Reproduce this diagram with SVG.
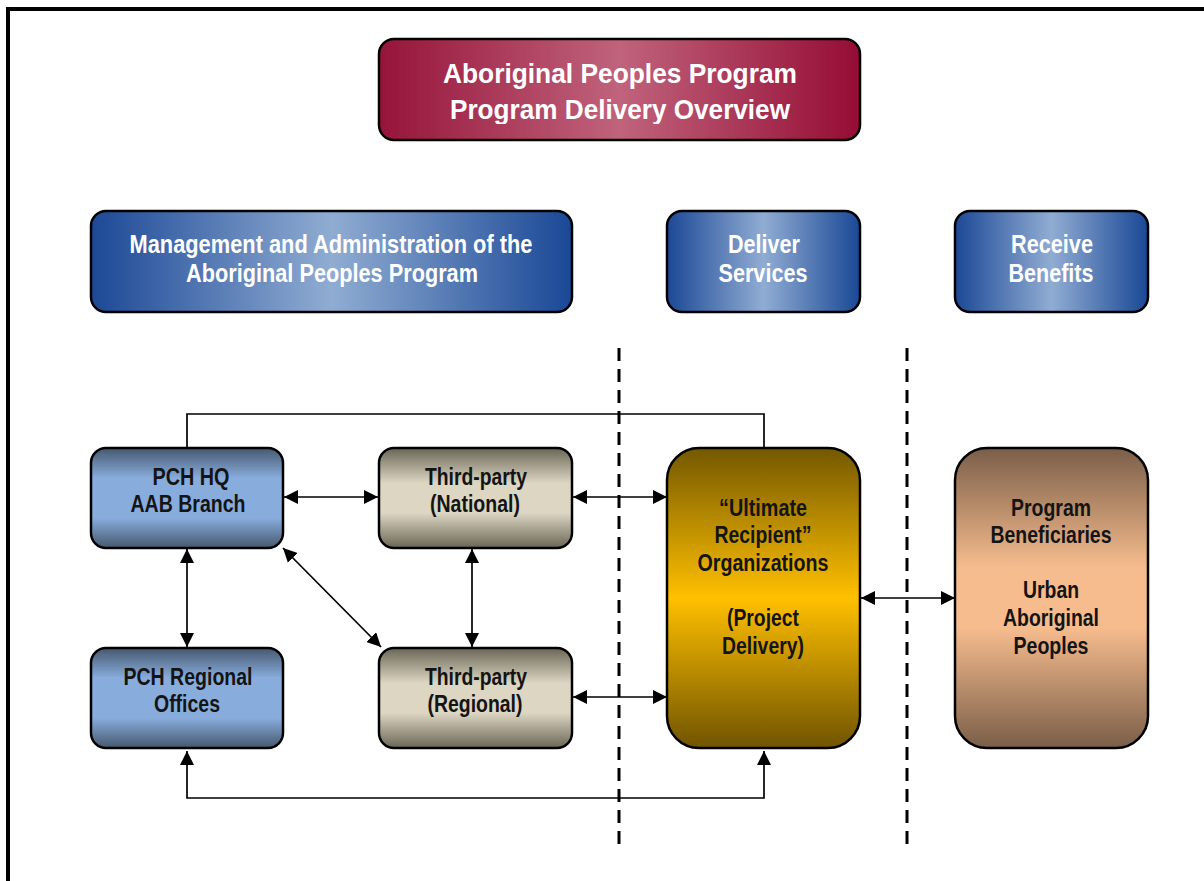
<svg xmlns="http://www.w3.org/2000/svg" width="1204" height="881" viewBox="0 0 1204 881">
<style>
.t{font-family:"Liberation Sans",Arial,sans-serif;text-anchor:middle;font-weight:bold;}
.w{fill:#ffffff;font-size:28px;}
.h{fill:#ffffff;font-size:25px;}
.d{fill:#141414;font-size:23px;}
.box{stroke:#000;stroke-width:2.5;}
.c{fill:none;stroke:#000;stroke-width:1.7;}
.dash{fill:none;stroke:#000;stroke-width:3;stroke-dasharray:13 8;}
</style>
<defs>
<linearGradient id="gTitle" x1="0" y1="0" x2="1" y2="0">
<stop offset="0" stop-color="#96143a"/><stop offset="0.5" stop-color="#c0637c"/><stop offset="1" stop-color="#950c35"/>
</linearGradient>
<linearGradient id="gHead" x1="0" y1="0" x2="1" y2="0">
<stop offset="0" stop-color="#1c4896"/><stop offset="0.5" stop-color="#90acd2"/><stop offset="1" stop-color="#1a4896"/>
</linearGradient>
<linearGradient id="gBlue" x1="0" y1="0" x2="0" y2="1">
<stop offset="0" stop-color="#46586e"/><stop offset="0.3" stop-color="#88acdc"/><stop offset="0.7" stop-color="#88acdc"/><stop offset="1" stop-color="#46586e"/>
</linearGradient>
<linearGradient id="gGrey" x1="0" y1="0" x2="0" y2="1">
<stop offset="0" stop-color="#6a6656"/><stop offset="0.35" stop-color="#dcd6c2"/><stop offset="0.65" stop-color="#dcd6c2"/><stop offset="1" stop-color="#6a6656"/>
</linearGradient>
<linearGradient id="gGold" x1="0" y1="0" x2="0" y2="1">
<stop offset="0" stop-color="#745800"/><stop offset="0.5" stop-color="#ffc000"/><stop offset="1" stop-color="#705400"/>
</linearGradient>
<linearGradient id="gTan" x1="0" y1="0" x2="0" y2="1">
<stop offset="0" stop-color="#7a5e48"/><stop offset="0.4" stop-color="#f6bc8e"/><stop offset="0.6" stop-color="#f6bc8e"/><stop offset="1" stop-color="#7a5e48"/>
</linearGradient>
<clipPath id="titleClip"><rect x="379" y="39" width="481" height="85"/></clipPath>
<marker id="ae" viewBox="0 0 14 14" refX="14" refY="7" markerWidth="14" markerHeight="14" markerUnits="userSpaceOnUse" orient="auto">
<path d="M0,0 L14,7 L0,14 Z" fill="#000"/>
</marker>
<marker id="as" viewBox="0 0 14 14" refX="0" refY="7" markerWidth="14" markerHeight="14" markerUnits="userSpaceOnUse" orient="auto">
<path d="M14,0 L0,7 L14,14 Z" fill="#000"/>
</marker>
</defs>
<rect width="1204" height="881" fill="#ffffff"/>
<rect x="8" y="9" width="1210" height="900" fill="none" stroke="#000" stroke-width="4"/>

<g id="title">
<rect class="box" x="379" y="39" width="481" height="101" rx="15" fill="url(#gTitle)"/>
<g clip-path="url(#titleClip)">
<text class="t w" x="620" y="83" textLength="354" lengthAdjust="spacingAndGlyphs">Aboriginal Peoples Program</text>
<text class="t w" x="620" y="119" textLength="340" lengthAdjust="spacingAndGlyphs">Program Delivery Overview</text>
</g>
</g>
<g id="management">
<rect class="box" x="91" y="211" width="481" height="101" rx="15" fill="url(#gHead)"/>
<text class="t h" x="331" y="253" textLength="403" lengthAdjust="spacingAndGlyphs">Management and Administration of the</text>
<text class="t h" x="332" y="282" textLength="292" lengthAdjust="spacingAndGlyphs">Aboriginal Peoples Program</text>
</g>
<g id="deliver">
<rect class="box" x="667" y="211" width="193" height="101" rx="15" fill="url(#gHead)"/>
<text class="t h" x="764" y="253" textLength="72" lengthAdjust="spacingAndGlyphs">Deliver</text>
<text class="t h" x="763" y="282" textLength="89" lengthAdjust="spacingAndGlyphs">Services</text>
</g>
<g id="receive">
<rect class="box" x="955" y="211" width="193" height="101" rx="15" fill="url(#gHead)"/>
<text class="t h" x="1052" y="253" textLength="82" lengthAdjust="spacingAndGlyphs">Receive</text>
<text class="t h" x="1051" y="282" textLength="85" lengthAdjust="spacingAndGlyphs">Benefits</text>
</g>

<g id="dividers">
<line class="dash" x1="619" y1="348" x2="619" y2="850"/>
<line class="dash" x1="907" y1="348" x2="907" y2="850"/>
</g>

<g id="connectors">
<polyline class="c" points="187,448 187,414 764,414 764,448"/>
<line class="c" x1="284" y1="497" x2="378" y2="497" marker-start="url(#as)" marker-end="url(#ae)"/>
<line class="c" x1="573" y1="497" x2="667" y2="497" marker-start="url(#as)" marker-end="url(#ae)"/>
<line class="c" x1="573" y1="697" x2="667" y2="697" marker-start="url(#as)" marker-end="url(#ae)"/>
<line class="c" x1="187" y1="549" x2="187" y2="647" marker-start="url(#as)" marker-end="url(#ae)"/>
<line class="c" x1="472" y1="549" x2="472" y2="647" marker-start="url(#as)" marker-end="url(#ae)"/>
<line class="c" x1="283" y1="548" x2="381" y2="647" marker-start="url(#as)" marker-end="url(#ae)"/>
<line class="c" x1="861" y1="598" x2="955" y2="598" marker-start="url(#as)" marker-end="url(#ae)"/>
<polyline class="c" points="187,751 187,798 764,798 764,751" marker-start="url(#as)" marker-end="url(#ae)"/>
</g>

<g id="pch-hq">
<rect class="box" x="91" y="448" width="192" height="100" rx="15" fill="url(#gBlue)"/>
<text class="t d" x="191" y="485" textLength="77" lengthAdjust="spacingAndGlyphs">PCH HQ</text>
<text class="t d" x="188" y="512" textLength="115" lengthAdjust="spacingAndGlyphs">AAB Branch</text>
</g>
<g id="third-national">
<rect class="box" x="379" y="448" width="193" height="100" rx="15" fill="url(#gGrey)"/>
<text class="t d" x="476" y="485" textLength="102" lengthAdjust="spacingAndGlyphs">Third-party</text>
<text class="t d" x="475" y="512" textLength="90" lengthAdjust="spacingAndGlyphs">(National)</text>
</g>
<g id="pch-regional">
<rect class="box" x="91" y="648" width="192" height="100" rx="15" fill="url(#gBlue)"/>
<text class="t d" x="188" y="685" textLength="129" lengthAdjust="spacingAndGlyphs">PCH Regional</text>
<text class="t d" x="187" y="712" textLength="66" lengthAdjust="spacingAndGlyphs">Offices</text>
</g>
<g id="third-regional">
<rect class="box" x="379" y="648" width="193" height="100" rx="15" fill="url(#gGrey)"/>
<text class="t d" x="476" y="685" textLength="102" lengthAdjust="spacingAndGlyphs">Third-party</text>
<text class="t d" x="475" y="712" textLength="95" lengthAdjust="spacingAndGlyphs">(Regional)</text>
</g>
<g id="ultimate">
<rect class="box" x="667" y="448" width="193" height="300" rx="32" fill="url(#gGold)"/>
<text class="t d" x="763" y="516" textLength="88" lengthAdjust="spacingAndGlyphs">“Ultimate</text>
<text class="t d" x="763" y="543" textLength="97" lengthAdjust="spacingAndGlyphs">Recipient”</text>
<text class="t d" x="763" y="571" textLength="131" lengthAdjust="spacingAndGlyphs">Organizations</text>
<text class="t d" x="763" y="626" textLength="72" lengthAdjust="spacingAndGlyphs">(Project</text>
<text class="t d" x="763" y="654" textLength="82" lengthAdjust="spacingAndGlyphs">Delivery)</text>
</g>
<g id="beneficiaries">
<rect class="box" x="955" y="448" width="193" height="300" rx="32" fill="url(#gTan)"/>
<text class="t d" x="1051" y="516" textLength="80" lengthAdjust="spacingAndGlyphs">Program</text>
<text class="t d" x="1051" y="543" textLength="121" lengthAdjust="spacingAndGlyphs">Beneficiaries</text>
<text class="t d" x="1051" y="598" textLength="56" lengthAdjust="spacingAndGlyphs">Urban</text>
<text class="t d" x="1051" y="626" textLength="96" lengthAdjust="spacingAndGlyphs">Aboriginal</text>
<text class="t d" x="1051" y="654" textLength="75" lengthAdjust="spacingAndGlyphs">Peoples</text>
</g>
</svg>
